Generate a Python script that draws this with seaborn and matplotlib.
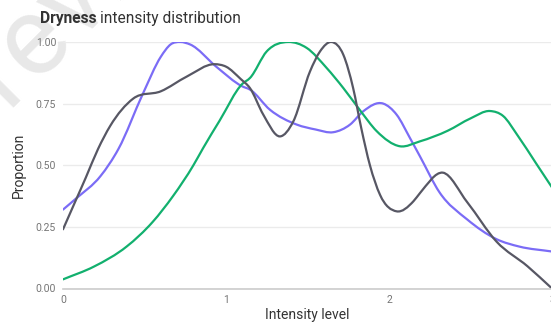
import matplotlib
matplotlib.use("Agg")
import matplotlib.pyplot as plt
from matplotlib.path import Path
from matplotlib.patches import PathPatch
import seaborn as sns
import pandas as pd
import numpy as np

# ---- data ----
purple_x = [0.0, 0.08, 0.23, 0.34, 0.49, 0.60, 0.66, 0.72, 0.78, 0.94, 1.10, 1.147, 1.27, 1.434, 1.55,
            1.658, 1.761, 1.842, 1.965, 2.047, 2.129, 2.19, 2.31, 2.48, 2.66, 2.80, 3.0]
purple_y = [0.32, 0.365, 0.456, 0.566, 0.79, 0.94, 0.99, 1.0, 0.99, 0.90, 0.82, 0.807, 0.725, 0.665, 0.645,
            0.634, 0.665, 0.719, 0.75, 0.705, 0.61, 0.536, 0.39, 0.28, 0.20, 0.17, 0.15]

green_x = [0.0, 0.19, 0.39, 0.55, 0.675, 0.80, 0.86, 0.96, 1.10, 1.147, 1.25, 1.383, 1.495, 1.617,
           1.72, 1.82, 1.925, 2.067, 2.19, 2.36, 2.50, 2.62, 2.70, 2.79, 2.90, 3.0]
green_y = [0.037, 0.089, 0.17, 0.27, 0.375, 0.50, 0.57, 0.68, 0.83, 0.854, 0.962, 1.0, 0.976, 0.895,
           0.813, 0.725, 0.638, 0.577, 0.597, 0.64, 0.69, 0.72, 0.70, 0.62, 0.51, 0.41]

grey_x = [0.0, 0.08, 0.14, 0.215, 0.29, 0.43, 0.60, 0.76, 0.93, 1.0, 1.09, 1.147, 1.229, 1.331, 1.413,
          1.515, 1.577, 1.648, 1.72, 1.78, 1.83, 1.883, 1.945, 2.047, 2.15, 2.19, 2.33, 2.48, 2.66, 2.85, 3.0]
grey_y = [0.24, 0.36, 0.45, 0.566, 0.66, 0.77, 0.80, 0.86, 0.91, 0.90, 0.85, 0.813, 0.705, 0.617, 0.678,
          0.88, 0.962, 1.0, 0.948, 0.813, 0.65, 0.50, 0.38, 0.313, 0.354, 0.387, 0.47, 0.35, 0.19, 0.09, 0.0]

series_names = ["purple", "green", "grey"]
colors = {"purple": "#7b6cf6", "green": "#12b06e", "grey": "#575764"}

x_ticks = [0, 1, 2, 3]
y_ticks = [0.0, 0.25, 0.5, 0.75, 1.0]
y_tick_labels = ["0.00", "0.25", "0.50", "0.75", "1.00"]

df = pd.concat([
    pd.DataFrame({"x": purple_x, "y": purple_y, "s": "purple"}),
    pd.DataFrame({"x": green_x, "y": green_y, "s": "green"}),
    pd.DataFrame({"x": grey_x, "y": grey_y, "s": "grey"}),
])

sns.set_theme(style="white")
plt.rcParams["font.family"] = ["Roboto", "DejaVu Sans"]

W, H = 551, 322
fig = plt.figure(figsize=(W / 100, H / 100), dpi=100)
ax = fig.add_axes([63 / W, 1 - 288.5 / H, 489 / W, (288.5 - 42) / H])
renderer = fig.canvas.get_renderer()

# watermark: rotated "Preview", placed so that its "e" sits where the reference shows it
wm_size = 80
probe1 = fig.text(0, 0, "Pr", fontsize=wm_size)
probe2 = fig.text(0, 0, "Pre", fontsize=wm_size)
w_pr = probe1.get_window_extent(renderer).width
w_pre = probe2.get_window_extent(renderer).width
probe1.remove()
probe2.remove()
em = wm_size * 100 / 72
a = (w_pr + w_pre) / 2          # along the baseline
b = 0.27 * em                   # above the baseline
c, s = np.cos(np.pi / 4), np.sin(np.pi / 4)
tx, ty = 33, H - 37             # target centre of the "e" (display px)
ax0 = tx - (a * c - b * s)
ay0 = ty - (a * s + b * c)
fig.text(ax0 / W, ay0 / H, "Preview", rotation=45, rotation_mode="anchor", ha="left", va="baseline",
         fontsize=wm_size, color="#e8e8e8", zorder=-1)

sns.lineplot(data=df, x="x", y="y", hue="s", palette=colors, hue_order=series_names,
             linewidth=1.6, legend=False, ax=ax, sort=False)


def smooth_path(xy):
    """Cubic Bezier path through the vertices (rendering only, same vertices)."""
    x, y = xy[:, 0], xy[:, 1]
    h = np.diff(x)
    d = np.diff(y) / h
    m = np.empty_like(y)
    m[0], m[-1] = d[0], d[-1]
    m[1:-1] = (h[1:] * d[:-1] + h[:-1] * d[1:]) / (h[:-1] + h[1:])
    verts = [(x[0], y[0])]
    codes = [Path.MOVETO]
    for i in range(len(x) - 1):
        verts += [(x[i] + h[i] / 3, y[i] + m[i] * h[i] / 3),
                  (x[i + 1] - h[i] / 3, y[i + 1] - m[i + 1] * h[i] / 3),
                  (x[i + 1], y[i + 1])]
        codes += [Path.CURVE4] * 3
    return Path(verts, codes)


for line in list(ax.lines):
    patch = PathPatch(smooth_path(line.get_xydata()), facecolor="none", edgecolor=line.get_color(),
                      linewidth=1.6, capstyle="round", joinstyle="round", transform=ax.transData)
    ax.add_patch(patch)
    line.remove()

ax.set_xlim(0, 3)
ax.set_ylim(0, 1)
ax.set_xticks(x_ticks)
ax.set_xticklabels([str(t) for t in x_ticks])
ax.set_yticks(y_ticks)
ax.set_yticklabels(y_tick_labels)
ax.patch.set_alpha(0)
for sp in ["top", "right", "left"]:
    ax.spines[sp].set_visible(False)
ax.spines["bottom"].set_color("#cccccc")
ax.spines["bottom"].set_linewidth(1.2)
ax.grid(axis="y", color="#ebebeb", linewidth=1.0)
ax.set_axisbelow(True)
ax.tick_params(axis="both", length=0, labelsize=7.5, labelcolor="#757575", pad=5)

ax.set_xlabel("Intensity level", fontsize=10, color="#333333", labelpad=2)
ax.set_ylabel("Proportion", fontsize=10, color="#333333", labelpad=7)

# title: bold word followed by regular text
t1 = fig.text(40 / W, 1 - 23 / H, "Dryness", fontsize=11.2, fontweight="bold", color="#333333",
              ha="left", va="baseline")
fig.canvas.draw()
bb = t1.get_window_extent(renderer=fig.canvas.get_renderer())
x2 = (bb.x1 + 3.5) / fig.bbox.width
fig.text(x2, 1 - 23 / H, "intensity distribution", fontsize=11.2, color="#333333",
         ha="left", va="baseline")

fig.savefig("out.png", dpi=100)
